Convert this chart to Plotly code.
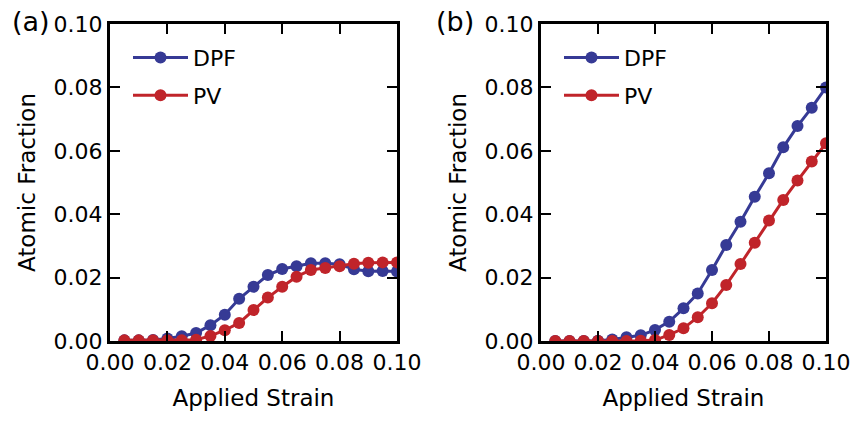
import plotly.graph_objects as go

strain = [0.005, 0.010, 0.015, 0.020, 0.025, 0.030, 0.035, 0.040, 0.045, 0.050,
          0.055, 0.060, 0.065, 0.070, 0.075, 0.080, 0.085, 0.090, 0.095, 0.100]

a_dpf = [0.0002, 0.0002, 0.0003, 0.0008, 0.0015, 0.0025, 0.0050, 0.0083, 0.0133, 0.0171,
         0.0208, 0.0227, 0.0236, 0.0245, 0.0245, 0.0242, 0.0226, 0.0220, 0.0221, 0.0219]
a_pv = [0.0002, 0.0002, 0.0002, 0.0002, 0.0002, 0.0004, 0.0016, 0.0034, 0.0057, 0.0098,
        0.0137, 0.0171, 0.0203, 0.0224, 0.0230, 0.0236, 0.0244, 0.0247, 0.0248, 0.0248]

b_dpf = [0.0000, 0.0000, 0.0000, 0.0001, 0.0005, 0.0012, 0.0018, 0.0035, 0.0061, 0.0103,
         0.0150, 0.0224, 0.0303, 0.0376, 0.0455, 0.0529, 0.0611, 0.0678, 0.0736, 0.0800]
b_pv = [0.0000, 0.0000, 0.0000, 0.0000, 0.0000, 0.0000, 0.0001, 0.0003, 0.0019, 0.0040,
        0.0075, 0.0119, 0.0177, 0.0243, 0.0310, 0.0380, 0.0445, 0.0506, 0.0566, 0.0624]

x_ticks = [0.00, 0.02, 0.04, 0.06, 0.08, 0.10]
y_ticks = [0.00, 0.02, 0.04, 0.06, 0.08, 0.10]
tick_text = ["0.00", "0.02", "0.04", "0.06", "0.08", "0.10"]

BLUE = "#363a95"
RED = "#c0242a"
FONT = "DejaVu Sans"

fig = go.Figure()

def add(x, y, name, color, xa, ya, legend, group):
    fig.add_trace(go.Scatter(
        x=x, y=y, name=name, mode="lines+markers",
        line=dict(color=color, width=3),
        marker=dict(color=color, size=12),
        xaxis=xa, yaxis=ya, legend=legend, legendgroup=group,
        cliponaxis=True,
    ))

add(strain, a_dpf, "DPF", BLUE, "x", "y", "legend", "a1")
add(strain, a_pv, "PV", RED, "x", "y", "legend", "a2")
add(strain, b_dpf, "DPF", BLUE, "x2", "y2", "legend2", "b1")
add(strain, b_pv, "PV", RED, "x2", "y2", "legend2", "b2")

W, H = 857, 426
xa_dom = [110 / W, 397 / W]
xb_dom = [541 / W, 826 / W]
y_dom = [(H - 341) / H, (H - 24) / H]

axis_common = dict(
    showline=True, linecolor="black", linewidth=3, mirror="allticks",
    ticks="inside", ticklen=10, tickwidth=2, tickcolor="black",
    showgrid=False, zeroline=False, automargin=False,
    tickfont=dict(family=FONT, size=22, color="black"),
    title_font=dict(family=FONT, size=23, color="black"),
)

legend_common = dict(
    xanchor="left", yanchor="top", bgcolor="rgba(0,0,0,0)",
    font=dict(family=FONT, size=22, color="black"),
    itemwidth=55, tracegroupgap=6,
)

fig.update_layout(
    width=W, height=H,
    margin=dict(l=0, r=0, t=0, b=0, autoexpand=False),
    paper_bgcolor="white", plot_bgcolor="white",
    font=dict(family=FONT, color="black"),
    xaxis=dict(domain=xa_dom, anchor="y", range=[0, 0.1], tickvals=x_ticks, ticktext=tick_text,
               title=dict(text="Applied Strain", standoff=16), **axis_common),
    yaxis=dict(domain=y_dom, anchor="x", range=[0, 0.1], tickvals=y_ticks, ticktext=tick_text,
               title=dict(text="Atomic Fraction", standoff=12), **axis_common),
    xaxis2=dict(domain=xb_dom, anchor="y2", range=[0, 0.1], tickvals=x_ticks, ticktext=tick_text,
                title=dict(text="Applied Strain", standoff=16), **axis_common),
    yaxis2=dict(domain=y_dom, anchor="x2", range=[0, 0.1], tickvals=y_ticks, ticktext=tick_text,
                title=dict(text="Atomic Fraction", standoff=12), **axis_common),
    legend=dict(x=xa_dom[0] + 0.021, y=y_dom[1] - 0.030, **legend_common),
    legend2=dict(x=xb_dom[0] + 0.021, y=y_dom[1] - 0.030, **legend_common),
    annotations=[
        dict(text="(a)", x=10 / W, y=1 - 22 / H, xref="paper", yref="paper",
             xanchor="left", yanchor="middle", showarrow=False,
             font=dict(family=FONT, size=27, color="black")),
        dict(text="(b)", x=434 / W, y=1 - 22 / H, xref="paper", yref="paper",
             xanchor="left", yanchor="middle", showarrow=False,
             font=dict(family=FONT, size=27, color="black")),
    ],
    showlegend=True,
)

fig.write_html("out.html")
